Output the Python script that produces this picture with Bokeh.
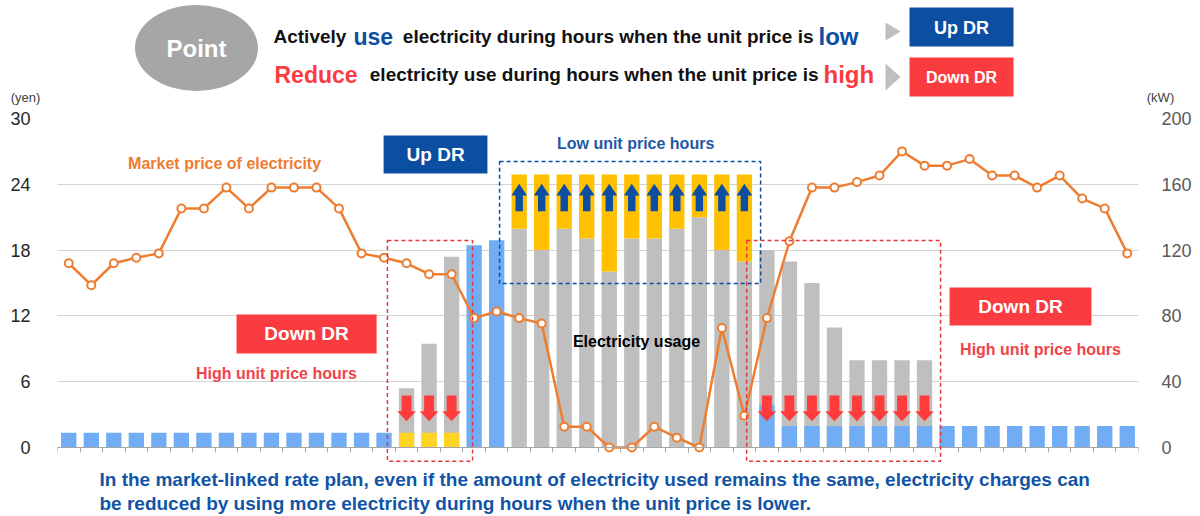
from bokeh.plotting import figure
from bokeh.models import Range1d, LinearAxis, FixedTicker, Label, BoxAnnotation
from bokeh.layouts import column
from bokeh.embed import file_html
from bokeh.resources import INLINE

FONT = "Liberation Sans"

# ---------------- data (48 half-hour slots) ----------------
slots = list(range(48))
price_yen = [16.8, 14.8, 16.8, 17.3, 17.7, 21.8, 21.8, 23.7, 21.8, 23.7, 23.7, 23.7,
             21.8, 17.7, 17.3, 16.8, 15.8, 15.8, 11.8, 12.4, 11.8, 11.3, 1.9, 1.9,
             0.0, 0.0, 1.9, 0.9, 0.0, 10.9, 2.9, 11.8, 18.8, 23.7, 23.7, 24.2,
             24.8, 27.0, 25.7, 25.7, 26.3, 24.8, 24.8, 23.7, 24.8, 22.7, 21.8, 17.7]
# usage before DR (grey) in kW
usage_before_kw = [0, 0, 0, 0, 0, 0, 0, 0, 0, 0, 0, 0,
                   0, 0, 0, 36, 63, 116, 0, 0, 133, 120, 133, 127,
                   107, 127, 127, 133, 140, 120, 113, 120, 113, 100, 73, 53,
                   53, 53, 53, 0, 0, 0, 0, 0, 0, 0, 0, 0]
# usage with normal / reduced consumption (light blue) in kW
usage_blue_kw = [9, 9, 9, 9, 9, 9, 9, 9, 9, 9, 9, 9,
                 9, 9, 9, 0, 0, 0, 123, 126, 0, 0, 0, 0,
                 0, 0, 0, 0, 0, 0, 0, 26, 13, 13, 13, 13,
                 13, 13, 13, 13, 13, 13, 13, 13, 13, 13, 13, 13]
# usage after DR shown in yellow (kW)
usage_yellow_kw = [0, 0, 0, 0, 0, 0, 0, 0, 0, 0, 0, 0,
                   0, 0, 0, 9, 9, 9, 0, 0, 166, 166, 166, 166,
                   166, 166, 166, 166, 166, 166, 166, 0, 0, 0, 0, 0,
                   0, 0, 0, 0, 0, 0, 0, 0, 0, 0, 0, 0]
up_dr_slots = [20, 21, 22, 23, 24, 25, 26, 27, 28, 29, 30]
down_dr_slots = [15, 16, 17, 31, 32, 33, 34, 35, 36, 37, 38]
yen_ticks = [0, 6, 12, 18, 24, 30]
kw_ticks = [0, 40, 80, 120, 160, 200]

# ---------------- colours ----------------
LBLUE = "#71ADF4"
GREY = "#BFBFBF"
YEL_UP = "#FFC000"
YEL_DN = "#FFD424"
ORANGE = "#ED7D31"
DBLUE = "#0B4EA2"
RED = "#FA3C41"
TXTRED = "#F0434B"

W = 1200

# ---------------- header ----------------
hdr = figure(width=W, height=106, x_range=Range1d(0, W), y_range=Range1d(106, 0),
             toolbar_location=None, output_backend="svg", min_border=0,
             x_axis_location=None, y_axis_location=None)
hdr.frame_align = False
hdr.grid.visible = False
hdr.outline_line_color = None

hdr.ellipse(x=[196], y=[47.5], width=123, height=86, fill_color="#A6A6A6", line_color=None)


def htext(x, y, t, size, color, fig=hdr, align="left", baseline="alphabetic", bold=True):
    fig.add_layout(Label(x=x, y=y, text=t, text_font=FONT, text_font_size=size,
                         text_font_style="bold" if bold else "normal", text_color=color,
                         text_align=align, text_baseline=baseline))


htext(196, 48, "Point", "24px", "white", align="center", baseline="middle")
htext(273, 36, "Actively", "19px", "#111111")
htext(353, 36, "use", "23px", DBLUE)
htext(813, 36, "electricity during hours when the unit price is", "19px", "#111111", align="right")
htext(818, 36, "low", "24px", DBLUE)
htext(274, 74, "Reduce", "23px", RED)
htext(818, 74, "electricity use during hours when the unit price is", "19px", "#111111", align="right")
htext(823, 74, "high", "24px", RED)

hdr.patches(xs=[[885, 900, 885], [885, 900, 885]],
            ys=[[22, 31, 40], [63, 76.5, 90]], fill_color="#BFBFBF", line_color=None)
hdr.quad(left=[909], right=[1013], top=[7], bottom=[46], fill_color=DBLUE, line_color=None)
hdr.quad(left=[909], right=[1013], top=[57], bottom=[96], fill_color=RED, line_color=None)
htext(961, 27, "Up DR", "18px", "white", align="center", baseline="middle")
htext(961, 77, "Down DR", "16px", "white", align="center", baseline="middle")
htext(25, 97, "(yen)", "13px", "#404040", align="center", baseline="middle", bold=False)
htext(1160, 97, "(kW)", "13px", "#404040", align="center", baseline="middle", bold=False)

# ---------------- main chart ----------------
Y0 = -1.368  # frame extends a little below zero so the x axis sits at 0
p = figure(width=W, height=361, x_range=Range1d(0, 48), y_range=Range1d(Y0, 30),
           toolbar_location=None, output_backend="svg",
           min_border_left=57, min_border_right=62, min_border_top=12, min_border_bottom=5)
p.frame_align = False
p.extra_y_ranges = {"kw": Range1d(Y0 * 200 / 30, 200)}
p.outline_line_color = None
p.xgrid.visible = False
p.ygrid.ticker = FixedTicker(ticks=yen_ticks)
p.ygrid.grid_line_color = "#A6A6A6"
p.ygrid.grid_line_dash = "1 1"

ya = p.yaxis[0]
ya.ticker = FixedTicker(ticks=yen_ticks)
ya.axis_line_color = None
ya.major_tick_line_color = None
ya.minor_tick_line_color = None
ya.major_label_text_font = FONT
ya.major_label_text_font_size = "18px"
ya.major_label_text_color = "#262626"
ya.major_label_standoff = 21

ra = LinearAxis(y_range_name="kw", ticker=FixedTicker(ticks=kw_ticks))
ra.axis_line_color = None
ra.major_tick_line_color = None
ra.minor_tick_line_color = None
ra.major_label_text_font = FONT
ra.major_label_text_font_size = "18px"
ra.major_label_text_color = "#595959"
ra.major_label_text_align = "left"
ra.major_label_standoff = 17
p.add_layout(ra, "right")

xa = p.xaxis[0]
xa.fixed_location = 0
xa.ticker = FixedTicker(ticks=list(range(49)))
xa.axis_line_color = "#A6A6A6"
xa.major_tick_line_color = "#A6A6A6"
xa.major_tick_in = 0
xa.major_tick_out = 5
xa.minor_tick_line_color = None
xa.major_label_text_font_size = "0px"
xa.major_label_standoff = 0
xa.major_label_text_alpha = 0

BW = 0.68
xc = [s + 0.5 for s in slots]

# grey usage before DR
gi = [i for i in slots if usage_before_kw[i] > 0]
p.vbar(x=[xc[i] for i in gi], top=[usage_before_kw[i] for i in gi],
       width=BW, fill_color=GREY, line_color=None, y_range_name="kw")
# yellow: extra usage on top of grey in up-DR hours
p.vbar(x=[xc[i] for i in up_dr_slots], bottom=[usage_before_kw[i] for i in up_dr_slots],
       top=[usage_yellow_kw[i] for i in up_dr_slots],
       width=BW, fill_color=YEL_UP, line_color=None, y_range_name="kw")
# yellow reduced usage
yi = [i for i in slots if usage_yellow_kw[i] > 0 and i not in up_dr_slots]
p.vbar(x=[xc[i] for i in yi], top=[usage_yellow_kw[i] for i in yi],
       width=BW, fill_color=YEL_DN, line_color=None, y_range_name="kw")
# light blue usage
bi = [i for i in slots if usage_blue_kw[i] > 0]
p.vbar(x=[xc[i] for i in bi], top=[usage_blue_kw[i] for i in bi],
       width=BW, fill_color=LBLUE, line_color=None, y_range_name="kw")

# arrows
dx, dy = [], []
for i in down_dr_slots:
    c = xc[i]
    dx.append([c - 0.22, c + 0.22, c + 0.22, c + 0.415, c, c - 0.415, c - 0.22])
    dy.append([31.6, 31.6, 22.1, 22.1, 16.0, 22.1, 22.1])
p.patches(xs=dx, ys=dy, fill_color="#FF3B3B", line_color=None, y_range_name="kw")
ux, uy = [], []
for i in up_dr_slots:
    c = xc[i]
    ux.append([c - 0.165, c + 0.165, c + 0.165, c + 0.35, c, c - 0.35, c - 0.165])
    uy.append([143.6, 143.6, 153.2, 153.2, 160.3, 153.2, 153.2])
p.patches(xs=ux, ys=uy, fill_color=DBLUE, line_color=None, y_range_name="kw")

# market price line
p.line(x=xc, y=price_yen, line_color=ORANGE, line_width=2.5)
p.scatter(x=xc, y=price_yen, marker="circle", size=8, fill_color="white",
          line_color=ORANGE, line_width=2)

# dashed boxes
p.add_layout(BoxAnnotation(left=19.63, right=31.22, top=26.08, bottom=14.95, fill_alpha=0,
                           line_color=DBLUE, line_dash="4 3", line_width=1.5, line_alpha=1))
p.add_layout(BoxAnnotation(left=14.65, right=18.43, top=18.87, bottom=-1.25, fill_alpha=0,
                           line_color="#E8363D", line_dash="4 3", line_width=1.5, line_alpha=1))
p.add_layout(BoxAnnotation(left=30.6, right=39.21, top=18.87, bottom=-1.25, fill_alpha=0,
                           line_color="#E8363D", line_dash="4 3", line_width=1.5, line_alpha=1))

# filled label boxes
p.add_layout(BoxAnnotation(left=14.48, right=19.09, top=28.45, bottom=24.98,
                           fill_color=DBLUE, fill_alpha=1, line_color=None))
p.add_layout(BoxAnnotation(left=7.95, right=14.17, top=12.13, bottom=8.57,
                           fill_color=RED, fill_alpha=1, line_color=None))
p.add_layout(BoxAnnotation(left=39.61, right=45.91, top=14.59, bottom=11.12,
                           fill_color=RED, fill_alpha=1, line_color=None))


def ptext(x, y, t, size, color):
    p.add_layout(Label(x=x, y=y, text=t, text_font=FONT, text_font_size=size,
                       text_font_style="bold", text_color=color,
                       text_align="center", text_baseline="middle"))


ptext(16.79, 26.7, "Up DR", "19px", "white")
ptext(11.06, 10.35, "Down DR", "19px", "white")
ptext(42.76, 12.86, "Down DR", "19px", "white")
ptext(7.42, 25.94, "Market price of electricity", "16px", ORANGE)
ptext(25.67, 27.72, "Low unit price hours", "16px", "#1F5AA8")
ptext(9.72, 6.75, "High unit price hours", "16px", TXTRED)
ptext(43.65, 8.94, "High unit price hours", "16px", TXTRED)
ptext(25.71, 9.62, "Electricity usage", "16px", "#000000")

# ---------------- footer ----------------
ftr = figure(width=W, height=49, x_range=Range1d(0, W), y_range=Range1d(49, 0),
             toolbar_location=None, output_backend="svg", min_border=0,
             x_axis_location=None, y_axis_location=None)
ftr.frame_align = False
ftr.grid.visible = False
ftr.outline_line_color = None
FOOT = "#1154A6"
htext(99, 12, "In the market-linked rate plan, even if the amount of electricity used remains the same, electricity charges can",
      "19px", FOOT, fig=ftr, baseline="middle")
htext(99, 36, "be reduced by using more electricity during hours when the unit price is lower.",
      "19px", FOOT, fig=ftr, baseline="middle")

layout = column(hdr, p, ftr)
open("out.html", "w").write(file_html(layout, INLINE))
